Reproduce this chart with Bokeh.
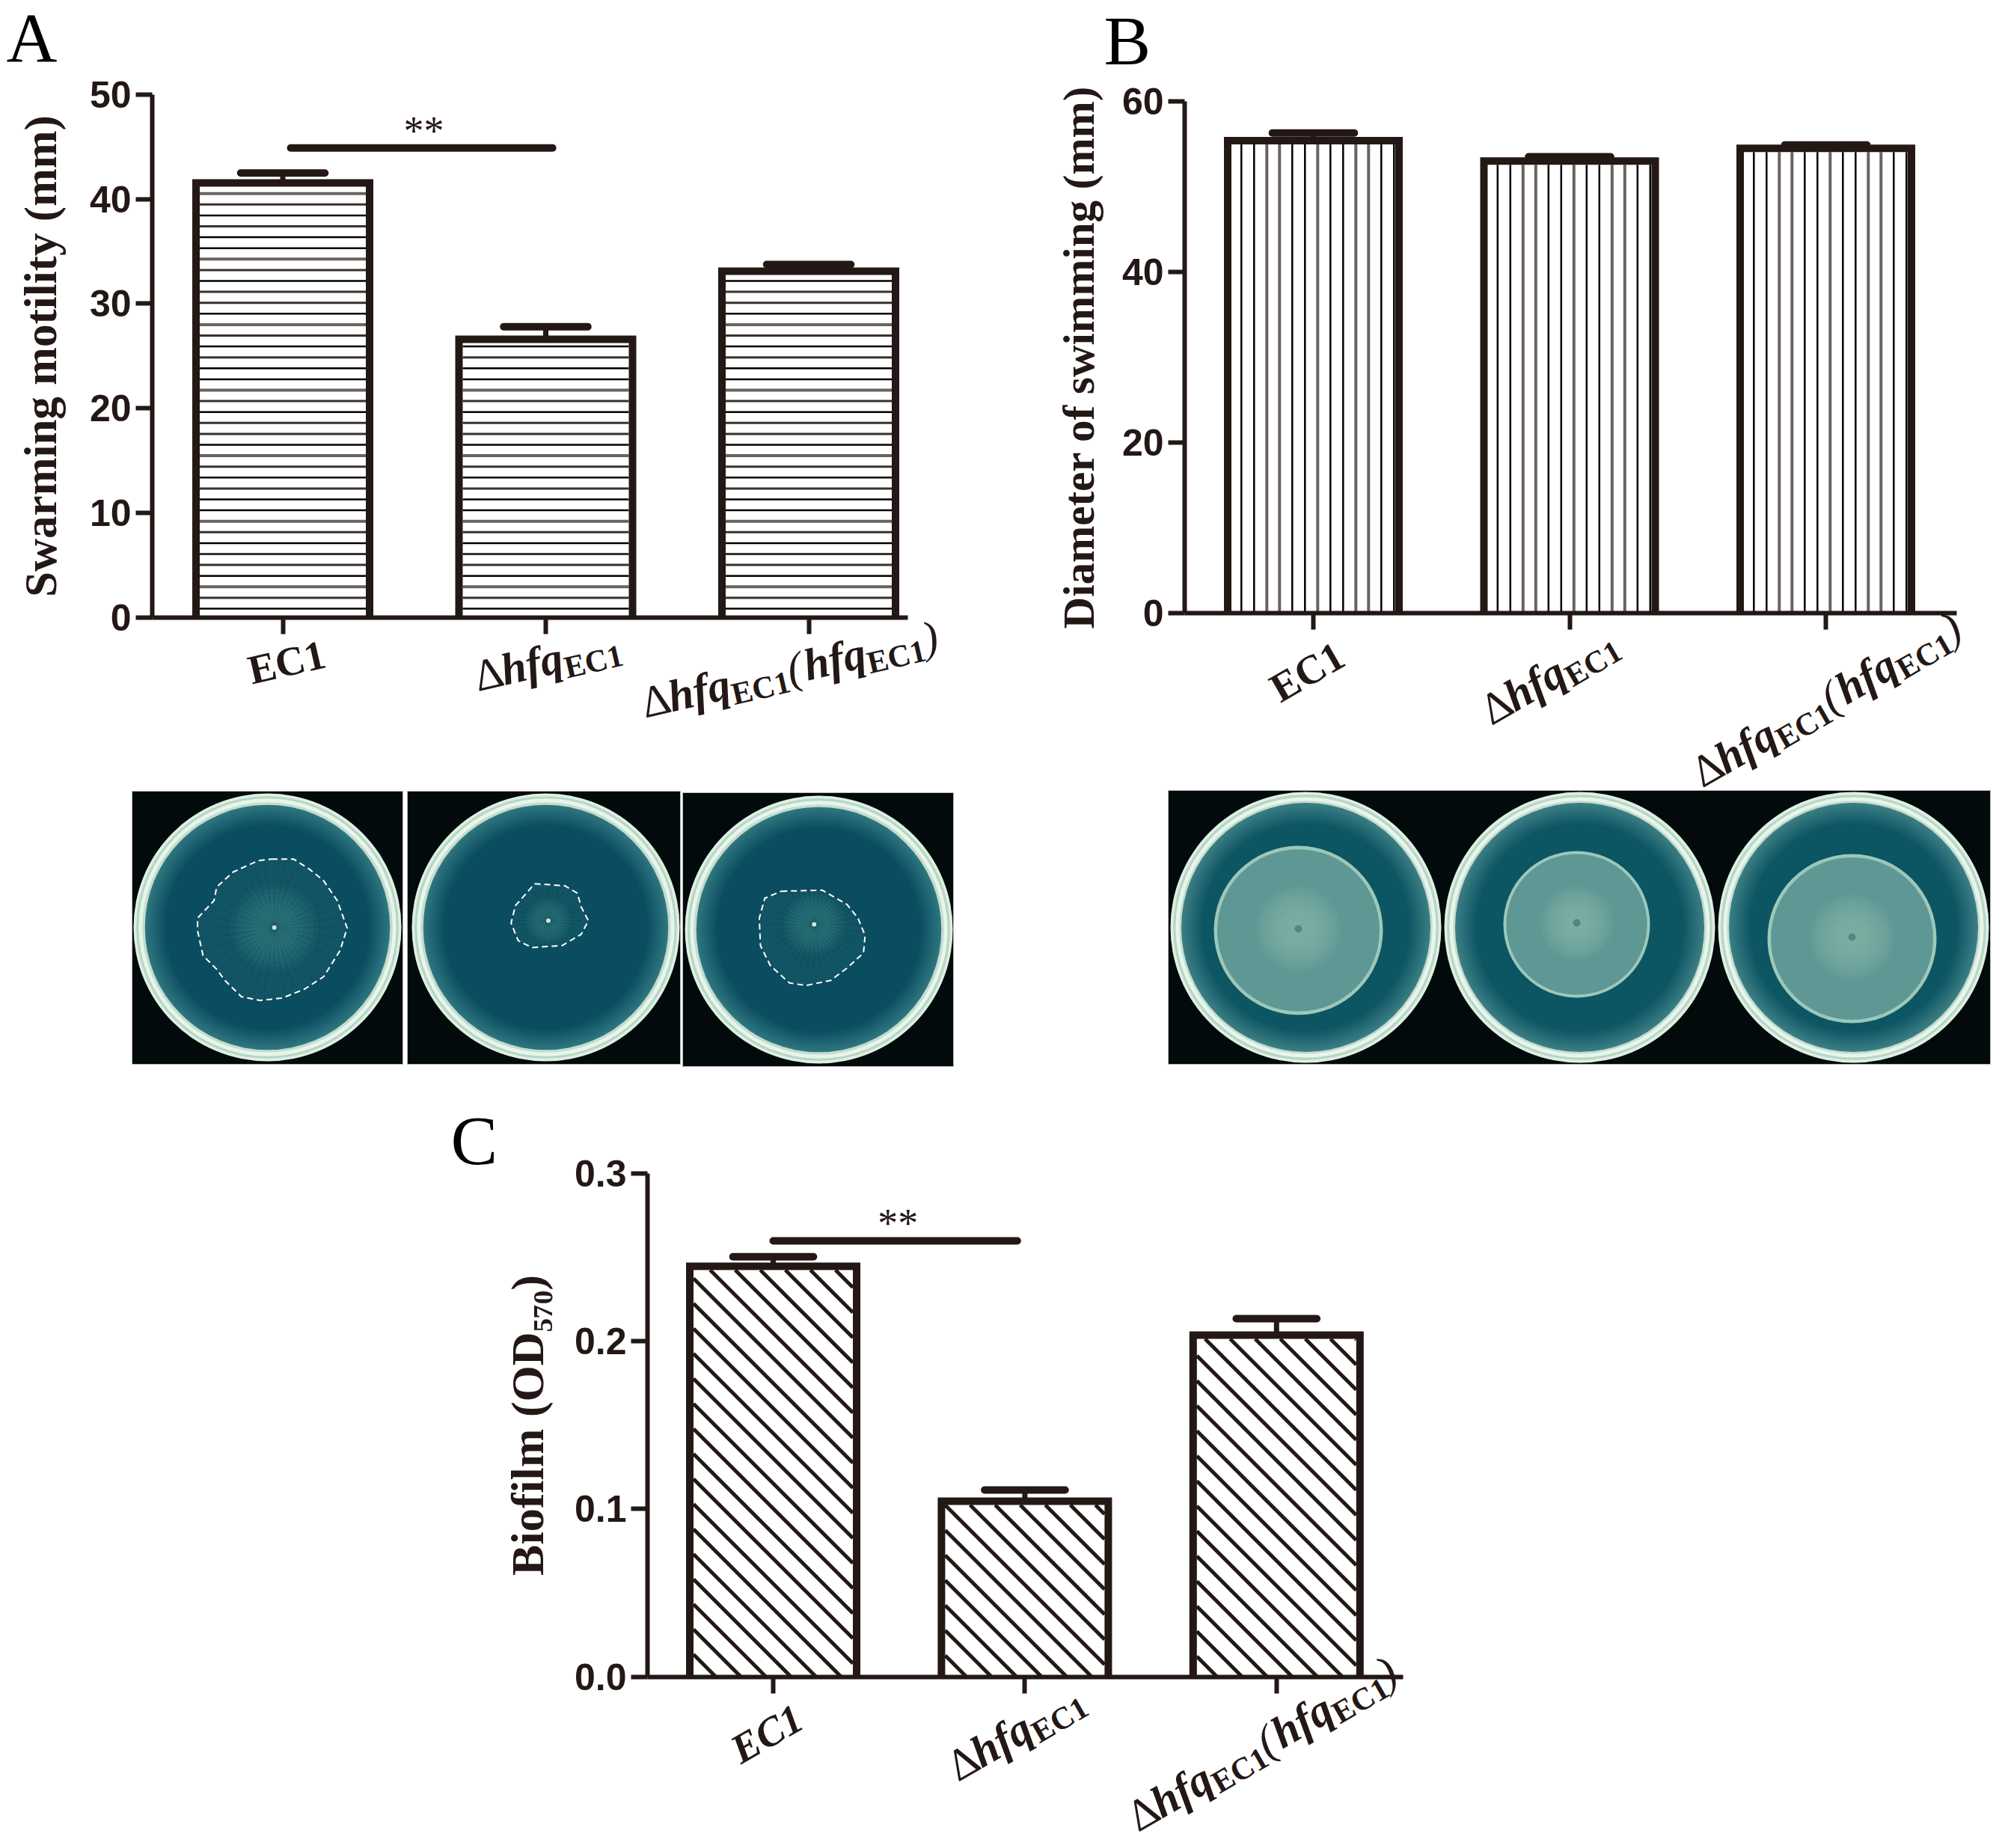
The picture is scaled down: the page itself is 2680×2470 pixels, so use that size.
from bokeh.plotting import figure
from bokeh.models import Range1d, FixedTicker, LinearAxis
from bokeh.core.properties import value
from bokeh.embed import file_html
from bokeh.resources import INLINE
import numpy as np
import math

INK = "#231815"
SERIF = "Liberation Serif"
SANS = "Liberation Sans"

# ---------- data ----------
categories = ["EC1", "Δhfq EC1", "Δhfq EC1 (hfq EC1)"]
swarm_mean = [41.55, 26.6, 33.1]
swarm_top = [42.5, 27.8, 33.75]
swim_mean = [55.4, 53.0, 54.5]
swim_top = [56.3, 53.5, 54.9]
biofilm_mean = [0.2445, 0.1046, 0.2035]
biofilm_top = [0.2502, 0.1113, 0.2133]
swarm_ticks = [0, 10, 20, 30, 40, 50]
swim_ticks = [0, 20, 40, 60]
biofilm_ticks = [0.0, 0.1, 0.2, 0.3]
swarm_sig = (0.03, 1.026, 44.9)
biofilm_sig = (0.0, 0.97, 0.2597)

PX0, PX1, PY0, PY1 = 0, 2664, 0, 2462   # the drawing area, in picture pixels
BASE = 0.37   # how far an alphabetic text glyph lands below its anchor, in em

p = figure(width=PX1 - PX0, height=PY1 - PY0, output_backend="svg", toolbar_location=None,
           x_range=Range1d(PX0, PX1), y_range=Range1d(PY1, PY0), min_border=0,
           x_axis_location=None, y_axis_location=None, outline_line_color=None)
p.grid.visible = False

# widths in em of Times bold / bold italic runs
W = {"Δ": .612, "hfq": 1.389, "EC1": 1.889, "(": .389, ")": .389}

def runs(kind, s, ec1_style):
    sub = s * 0.7
    if kind == 0:
        return [("EC1", s * 0.92, ec1_style, 0)]
    if kind == 1:
        return [("Δ", s, "normal", 0), ("hfq", s, "bold italic", 0), ("EC1", sub, "bold", 9)]
    return [("Δ", s, "normal", 0), ("hfq", s, "bold italic", 0), ("EC1", sub, "bold", 9),
            ("(", s, "italic", 0), ("hfq", s, "bold italic", 0), ("EC1", sub, "bold", 9), (")", s, "italic", 0)]

DARK = [("#000000", 2.5), ("#3a302d", 3.0), ("#6b6260", 4.0)]
H_SEQ = [0, 1, 2, 0, 1, 1, 0, 1, 2, 0, 0, 1]
V_SEQ = [0, 0, 2, 2, 0, 0, 2, 0, 0, 2, 2, 0]

def panel(name, tick0, spacing, x_end, y0, y_top, ymax, ticks, mean, top, ylabel, label_size, hatch, bar_w,
          angle, anchors, sig=None, star=None, fmt=None, standoff=30, ec1_style="bold"):
    k = (y0 - y_top) / ymax
    xr, yr = "x" + name, "y" + name
    p.extra_x_ranges[xr] = Range1d((PX0 - tick0) / spacing, (PX1 - tick0) / spacing)
    p.extra_y_ranges[yr] = Range1d((y0 - PY1) / k, (y0 - PY0) / k)
    sx = lambda v: tick0 + spacing * v
    sy = lambda v: y0 - k * v
    xleft = (hatch_axis_x[name] - tick0) / spacing
    xright = (x_end - tick0) / spacing
    kw = dict(x_range_name=xr, y_range_name=yr)
    x = list(range(len(mean)))
    half = bar_w / 2
    p.vbar(x=x, width=bar_w, bottom=0, top=mean, fill_color="white", line_color=None, **kw)
    # hatching inside each bar
    for i, m in zip(x, mean):
        il, ir = sx(i - half) + 5, sx(i + half) - 5
        it, ib = sy(m) + 5, y0
        if hatch == "h":
            ys = np.arange(ib - 11.5, it, -14.6)
            st = [DARK[H_SEQ[j % 12]] for j in range(len(ys))]
            p.segment(x0=[il] * len(ys), x1=[ir] * len(ys), y0=list(ys), y1=list(ys),
                      line_color=[s[0] for s in st], line_width=[s[1] for s in st])
        elif hatch == "v":
            xs = np.arange(sx(i - half) - 5 + 23.3, ir, 17.0)
            st = [DARK[V_SEQ[j % 12]] for j in range(len(xs))]
            p.segment(x0=list(xs), x1=list(xs), y0=[it] * len(xs), y1=[ib] * len(xs),
                      line_color=[s[0] for s in st], line_width=[s[1] for s in st])
        else:
            c0 = 748.3
            n0 = int((it - ir - c0) // 33.5)
            n1 = int((ib - il - c0) // 33.5) + 1
            a0, a1, b0, b1 = [], [], [], []
            for n in range(n0, n1 + 1):
                c = c0 + 33.5 * n
                xa, xb = max(il, it - c), min(ir, ib - c)
                if xb > xa:
                    a0.append(xa); a1.append(xb); b0.append(xa + c); b1.append(xb + c)
            p.segment(x0=a0, x1=a1, y0=b0, y1=b1, line_color=INK, line_width=5)
    # error bars
    p.segment(x0=x, x1=x, y0=mean, y1=top, line_color=INK, line_width=7, **kw)
    p.segment(x0=[v - 0.16 for v in x], x1=[v + 0.16 for v in x], y0=top, y1=top, line_color=INK,
              line_width=10, line_cap="round", **kw)
    # bar outline
    p.multi_line(xs=[[v - half, v - half, v + half, v + half] for v in x],
                 ys=[[0, m, m, 0] for m in mean], line_color=INK, line_width=10, line_join="miter", **kw)
    if sig:
        p.segment(x0=[sig[0]], x1=[sig[1]], y0=[sig[2]], y1=[sig[2]], line_color=INK, line_width=10,
                  line_cap="round", **kw)
        p.text(x=[star], y=[sig[2]], text=["**"], text_align="center", text_baseline="alphabetic",
               y_offset=-3 - BASE * 54, text_font=value(SERIF), text_font_size="54px", text_color=INK, **kw)
    # axes
    ax = LinearAxis(x_range_name=xr, y_range_name=yr, fixed_location=0, bounds=(xleft, xright),
                    ticker=FixedTicker(ticks=x), major_label_overrides={i: "" for i in x},
                    major_label_text_font_size="1px", major_tick_in=0, major_tick_out=22,
                    minor_tick_line_color=None, axis_line_width=6, major_tick_line_width=6,
                    axis_line_color=INK, major_tick_line_color=INK)
    p.add_layout(ax, "below")
    ay = LinearAxis(x_range_name=xr, y_range_name=yr, fixed_location=xleft, bounds=(0, ymax),
                    ticker=FixedTicker(ticks=ticks), major_tick_in=0, major_tick_out=22,
                    minor_tick_line_color=None, axis_line_width=6, major_tick_line_width=6,
                    axis_line_color=INK, major_tick_line_color=INK,
                    major_label_text_font=SANS, major_label_text_font_style="bold",
                    major_label_text_font_size="50px", major_label_text_color=INK, major_label_standoff=6,
                    axis_label=ylabel, axis_label_text_font=SERIF, axis_label_text_font_style="bold",
                    axis_label_text_font_size=f"{label_size}px", axis_label_text_color=INK,
                    axis_label_standoff=standoff)
    if fmt:
        ay.major_label_overrides = {t: fmt % t for t in ticks}
    p.add_layout(ay, "left")
    # category labels: rotated text runs laid along one baseline
    a = math.radians(angle)
    for i, (cx, cy) in enumerate(anchors):
        rs = runs(i, 60, ec1_style)
        pos = -sum(W[t] * z for t, z, _, _ in rs) / 2
        for t, z, style, drop in rs:
            d = drop - BASE * z
            p.text(x=[i], y=[0], text=[t], angle=angle, angle_units="deg",
                   x_offset=cx + pos * math.cos(a) + d * math.sin(a),
                   y_offset=cy - pos * math.sin(a) + d * math.cos(a),
                   text_font=value(SERIF), text_font_size=f"{z:.0f}px", text_font_style=style,
                   text_color=INK, text_align="left", text_baseline="alphabetic", **kw)
            pos += W[t] * z

hatch_axis_x = {"a": 203, "b": 1583, "c": 865}

# ---------- photographs, drawn in picture pixels ----------
panes = [(176, 538, 1057, 1422), (544, 909, 1057, 1422), (912, 1274, 1059, 1425), (1561, 2660, 1056, 1422)]
p.quad(left=[q[0] for q in panes], right=[q[1] for q in panes], bottom=[q[3] for q in panes],
       top=[q[2] for q in panes], fill_color="#020a0c", line_color="#b8b8b8", line_width=1)

def dish(cx, cy, R, core, edge, ring=0.915):
    for f, col in [(1.0, "#dff0e2"), (0.98, "#b6d6c6"), (0.962, "#e8f5ea"), (0.935, "#c2ddcf")]:
        p.circle(x=[cx], y=[cy], radius=R * f, fill_color=col, line_color=None)
    steps = 20
    c0 = np.array([int(edge[i:i + 2], 16) for i in (1, 3, 5)])
    c1 = np.array([int(core[i:i + 2], 16) for i in (1, 3, 5)])
    for j in range(steps):
        t = j / (steps - 1)
        col = "#%02x%02x%02x" % tuple(int(v) for v in (c0 + (c1 - c0) * t))
        p.circle(x=[cx], y=[cy], radius=R * ring * (1 - 0.009 * j), fill_color=col, line_color=None)

dish(357, 1239, 179, "#0b4d60", "#2f7680")
dish(729, 1239, 179, "#0b4d60", "#2f7680")
dish(1094, 1242, 179, "#0b4d60", "#2f7680")

ZX0, ZXS, ZY0, ZYS = 150, 1.365, 1030, 3.0
outline1 = [(290,353),(330,353),(360,395),(385,440),(410,520),(428,630),(415,720),(385,825),(350,875),(310,910),(270,920),(235,905),(205,840),(190,795),(165,740),(155,640),(155,590),(185,520),(190,465),(220,405),(265,360),(290,353)]
outline2 = [(770,452),(825,460),(848,490),(855,545),(868,600),(855,655),(820,700),(765,708),(740,680),(727,610),(735,540),(755,490),(770,452)]
outline3 = [(1220,482),(1295,478),(1340,535),(1360,590),(1373,660),(1370,730),(1340,790),(1310,840),(1265,860),(1235,850),(1200,780),(1182,700),(1180,590),(1190,510),(1220,482)]
centres = [(295, 628), (795, 600), (1280, 615)]
for o, c in zip([outline1, outline2, outline3], centres):
    xs = [ZX0 + u / ZXS for u, _ in o]
    ys = [ZY0 + w / ZYS for _, w in o]
    p.patch(xs, ys, fill_color="#115463", line_color=None)
    cx, cy = ZX0 + c[0] / ZXS, ZY0 + c[1] / ZYS
    reach = 0.42 * (max(xs) - min(xs))
    for j in range(8):
        p.circle(x=[cx], y=[cy], radius=reach * (0.7 - 0.08 * j), fill_color="#3f8c8c", fill_alpha=0.12,
                 line_color=None)
    ang = np.linspace(0, 2 * np.pi, 40, endpoint=False)
    p.segment(x0=[cx] * len(ang), y0=[cy] * len(ang), x1=list(cx + reach * np.cos(ang)),
              y1=list(cy + reach * np.sin(ang)), line_color="#08404e", line_width=1, line_alpha=0.4)
    p.circle(x=[cx], y=[cy], radius=3, fill_color="#cfe6dc", line_color=None)
    p.line(xs, ys, line_color="white", line_width=2, line_dash="8 5")

plates = [(1745, 1239, 181, 1735, 1243, 113), (2111, 1239, 181, 2107, 1235, 98), (2477, 1239, 181, 2475, 1254, 113)]
for cx, cy, R, ix, iy, r in plates:
    dish(cx, cy, R, "#0c5563", "#3c7e84", ring=0.92)
    p.circle(x=[ix], y=[iy], radius=r, fill_color="#9cc8ba", line_color=None)
    p.circle(x=[ix], y=[iy], radius=r * 0.96, fill_color="#5e9794", line_color=None)
    for j in range(10):
        p.circle(x=[ix], y=[iy - 2], radius=r * (0.5 - 0.045 * j), fill_color="#84b5a9", fill_alpha=0.14,
                 line_color=None)
    p.circle(x=[ix], y=[iy - 2], radius=5, fill_color="#4c8a8a", line_color=None)

panel("a", 377.5, 351.5, 1213, 824.5, 126, 50, swarm_ticks, swarm_mean, swarm_top,
      "Swarming motility (mm)", 61, "h", 232 / 351.5, 13, [(10, 80), (7, 79), (-19, 91)],
      swarm_sig, 0.536, standoff=29)
panel("b", 1755, 342.5, 2615, 819, 135, 60, swim_ticks, swim_mean, swim_top,
      "Diameter of swimming (mm)", 59, "v", 229 / 342.5, 30, [(2, 96), (-17, 103), (13, 134)], standoff=22)
panel("c", 1033, 336.4, 1875, 2240.7, 1567.5, 0.3, biofilm_ticks, biofilm_mean, biofilm_top,
      "Biofilm (OD₅₇₀)", 62, "d", 223 / 336.4, 30, [(3, 93), (-2, 93), (-7, 108)],
      biofilm_sig, 0.496, fmt="%.1f", standoff=26, ec1_style="bold italic")

# panel letters (baseline positions in picture pixels)
letter_x = [8, 1475, 602]
letter_y = [84, 88, 1558]
p.text(x=letter_x, y=[v - BASE * 94 for v in letter_y], text=["A", "B", "C"],
       text_font=value(SERIF), text_font_size="94px", text_color="black", text_align="left",
       text_baseline="alphabetic")

open("out.html", "w").write(file_html(p, INLINE))
